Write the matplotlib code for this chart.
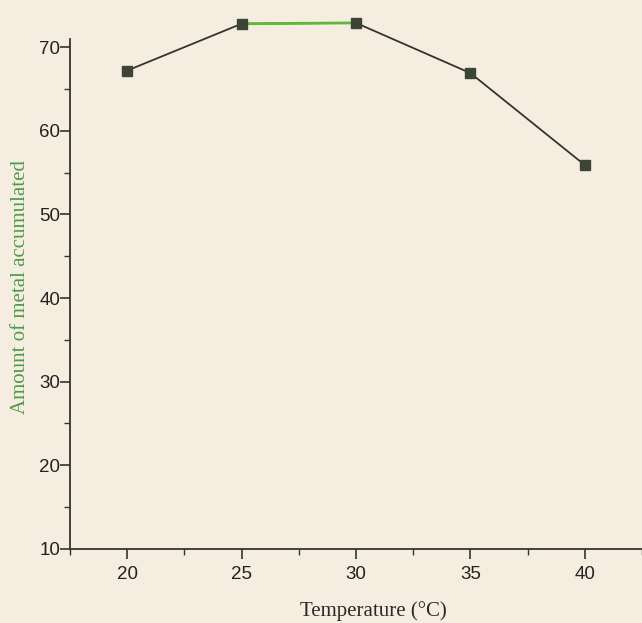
import matplotlib
matplotlib.use("Agg")
import matplotlib.pyplot as plt
from matplotlib.ticker import MultipleLocator

temperature = [20, 25, 30, 35, 40]
metal = [67.2, 72.8, 72.9, 66.9, 55.9]
xticks = [20, 25, 30, 35, 40]
yticks = [10, 20, 30, 40, 50, 60, 70]

bg = "#f5eee0"
ink = "#333330"

fig = plt.figure(figsize=(6.42, 6.23), dpi=100, facecolor=bg)
ax = fig.add_axes([0.109, 0.119, 0.891, 0.859])
ax.set_facecolor(bg)

ax.plot(temperature, metal, color=ink, lw=1.3, zorder=2)
# the middle segment prints green in the scan
ax.plot(temperature[1:3], metal[1:3], color="#5fb83a", lw=2.0, zorder=3)
ax.plot(temperature, metal, ls="none", marker="s", ms=7,
        mfc="#3c4438", mec="#3c4438", clip_on=False, zorder=4)

ax.set_xlim(17.5, 42.5)
ax.set_ylim(10, 74)
ax.set_xticks(xticks)
ax.set_yticks(yticks)
ax.xaxis.set_minor_locator(MultipleLocator(2.5))
ax.yaxis.set_minor_locator(MultipleLocator(5))

for s in ["top", "right"]:
    ax.spines[s].set_visible(False)
ax.spines["left"].set_bounds(10, 71)
ax.spines["left"].set_color(ink)
ax.spines["bottom"].set_color(ink)
ax.spines["left"].set_linewidth(1.3)
ax.spines["bottom"].set_linewidth(1.3)

ax.tick_params(which="major", length=7, width=1.2, color=ink, pad=0,
               labelsize=13.5, labelcolor="#222220")
ax.tick_params(which="minor", length=4, width=1.0, color=ink)
ax.tick_params(axis="x", pad=5)
for lab in ax.get_xticklabels() + ax.get_yticklabels():
    lab.set_fontfamily("Liberation Sans")

ax.set_xlabel("Temperature (°C)", fontfamily="Liberation Serif", fontsize=15,
              color="#2a2a28")
ax.xaxis.set_label_coords(0.53, -0.098)
ax.set_ylabel("Amount of metal accumulated", fontfamily="Liberation Serif",
              fontsize=15, color="#4f9a4a")
ax.yaxis.set_label_coords(-0.07, 0.49)

fig.savefig("out.png", dpi=100, facecolor=bg)
